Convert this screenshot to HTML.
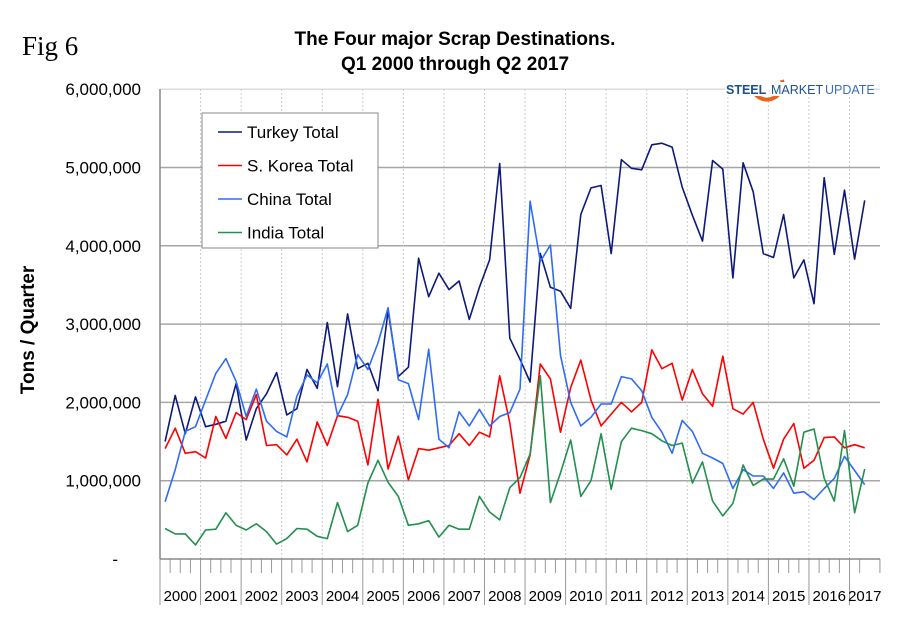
<!DOCTYPE html>
<html><head><meta charset="utf-8"><style>
body{margin:0;background:#fff;}
svg{display:block;font-family:"Liberation Sans",Arial,sans-serif;}
</style></head><body>
<svg id="chart" width="910" height="622" viewBox="0 0 910 622" xmlns="http://www.w3.org/2000/svg">
<rect width="910" height="622" fill="#fff"/>
<text x="22" y="55" font-family="Liberation Serif,serif" font-size="27">Fig 6</text>
<text x="455" y="45" text-anchor="middle" font-size="19" font-weight="bold">The Four major Scrap Destinations.</text>
<text x="455" y="70" text-anchor="middle" font-size="19" font-weight="bold">Q1 2000 through Q2 2017</text>
<text transform="translate(34,330) rotate(-90)" text-anchor="middle" font-size="19" font-weight="bold">Tons / Quarter</text>
<g id="grid"></g>
<g id="axes"></g>
<g id="series"></g>
<g>
<path d="M752 88 A14 14 0 1 0 782 80" fill="none" stroke="#e8641e" stroke-width="4"/>
<rect x="725" y="82" width="146" height="14" fill="#fff"/>
<text x="726" y="94" font-size="12.5" font-weight="bold" fill="#1d4f91">STEEL</text>
<text x="771" y="94" font-size="12.5" fill="#1d4f91">MARKET</text>
<text x="825" y="94" font-size="12.5" fill="#3a6fb5">UPDATE</text>
</g>
<g>
<rect x="202" y="113" width="176" height="135" fill="#fff" stroke="#888" stroke-width="1"/>
<g id="legend-items"></g>
</g>
</svg>
<script>
const years = ["2000","2001","2002","2003","2004","2005","2006","2007","2008","2009","2010","2011","2012","2013","2014","2015","2016","2017"];
const yTicks = [0,1000000,2000000,3000000,4000000,5000000,6000000];
const yTickLabels = ["-","1,000,000","2,000,000","3,000,000","4,000,000","5,000,000","6,000,000"];
const seriesNames = ["Turkey Total","S. Korea Total","China Total","India Total"];
const turkey = [1.50,2.09,1.60,2.07,1.69,1.72,1.76,2.24,1.52,1.92,2.11,2.38,1.84,1.92,2.42,2.18,3.02,2.20,3.13,2.43,2.50,2.15,3.17,2.33,2.45,3.84,3.35,3.65,3.44,3.55,3.06,3.47,3.82,5.05,2.82,2.55,2.26,3.90,3.47,3.42,3.20,4.40,4.74,4.77,3.90,5.10,4.99,4.97,5.29,5.31,5.26,4.75,4.39,4.06,5.09,4.98,3.59,5.06,4.69,3.90,3.85,4.40,3.59,3.82,3.26,4.87,3.89,4.71,3.83,4.58];
const korea = [1.41,1.67,1.35,1.37,1.29,1.82,1.54,1.87,1.78,2.10,1.45,1.46,1.33,1.53,1.24,1.75,1.45,1.83,1.81,1.76,1.20,2.04,1.15,1.57,1.01,1.41,1.39,1.42,1.45,1.60,1.45,1.62,1.56,2.34,1.74,0.84,1.33,2.49,2.30,1.62,2.19,2.54,2.03,1.70,1.85,2.00,1.88,2.00,2.67,2.43,2.50,2.03,2.42,2.11,1.95,2.59,1.92,1.85,2.00,1.53,1.16,1.53,1.73,1.16,1.26,1.55,1.56,1.42,1.46,1.42];
const china = [0.73,1.14,1.63,1.69,2.03,2.37,2.56,2.27,1.82,2.17,1.76,1.63,1.56,2.08,2.35,2.25,2.49,1.83,2.10,2.61,2.42,2.76,3.21,2.29,2.24,1.78,2.68,1.53,1.42,1.88,1.70,1.91,1.70,1.82,1.87,2.17,4.57,3.80,4.01,2.60,2.00,1.70,1.81,1.98,1.98,2.33,2.30,2.15,1.81,1.62,1.35,1.77,1.63,1.35,1.29,1.22,0.90,1.14,1.06,1.06,0.90,1.10,0.84,0.86,0.76,0.90,1.03,1.31,1.13,0.95];
const india = [0.39,0.32,0.32,0.18,0.37,0.38,0.59,0.43,0.37,0.45,0.35,0.19,0.26,0.39,0.38,0.29,0.26,0.72,0.35,0.43,0.97,1.26,0.98,0.80,0.43,0.45,0.49,0.28,0.43,0.38,0.38,0.80,0.60,0.50,0.91,1.04,1.34,2.34,0.72,1.10,1.52,0.80,1.00,1.60,0.89,1.50,1.67,1.64,1.60,1.51,1.45,1.48,0.97,1.24,0.74,0.55,0.71,1.20,0.94,1.02,1.02,1.28,0.93,1.62,1.66,1.03,0.74,1.64,0.59,1.15];
const seriesColors = ["#0d1a7a","#ff0000","#2f6cf5","#22904f"];
const seriesKeys = ["turkey-line","korea-line","china-line","india-line"];

const NS="http://www.w3.org/2000/svg";
const X0=160, QW=10.14, Y0=559, PPM=78.3, XEND=880;
function xq(i){return X0+QW*(i+0.5);}
function yv(v){return Y0-v/1e6*PPM;}
function mk(tag,attrs,parent){const e=document.createElementNS(NS,tag);for(const k in attrs)e.setAttribute(k,attrs[k]);parent.appendChild(e);return e;}
const grid=document.getElementById('grid'), axes=document.getElementById('axes'), ser=document.getElementById('series');

yTicks.forEach((t,i)=>{
  if(t>0){const l=mk('line',{x1:X0,x2:XEND,y1:yv(t),y2:yv(t),stroke:i===6?'#ddd':'#a6a6a6','stroke-width':1.5},grid);
  
  }
  const tx=mk('text',{x:i===0?118:141,y:yv(t)+6,'text-anchor':'end','font-size':17},axes);
  tx.textContent=yTickLabels[i];
  
  
});
let q=0;
years.forEach((yr,k)=>{
  const last = k===years.length-1;
  const n = last?2:4;
  const xs=X0+q*QW, xe=last?XEND:X0+(q+n)*QW;
  if(k>0){const g=mk('line',{x1:xs,x2:xs,y1:89,y2:Y0,stroke:'#ccc','stroke-dasharray':'2,2'},grid);
  
  }
  const sep=mk('line',{x1:xs,x2:xs,y1:Y0,y2:605,stroke:'#999','stroke-width':1},axes);
  
  
  for(let j=1;j<n;j++){const tk=mk('line',{x1:xs+j*QW,x2:xs+j*QW,y1:Y0,y2:573,stroke:'#999'},axes);
  
  }
  const lbl=mk('text',{x:(xs+xe)/2,y:601,'text-anchor':'middle','font-size':15},axes);
  lbl.textContent=yr;
  
  
  q+=n;
});
for(let j=q;j<Math.round((XEND-X0)/QW);j++){const x=X0+(j+1)*QW;if(x<=XEND+1){const tk=mk('line',{x1:x,x2:x,y1:Y0,y2:573,stroke:'#999'},axes);
  
  }}
const ya=mk('line',{x1:X0,x2:X0,y1:89,y2:Y0,stroke:'#888','stroke-width':1.5},axes);


const xa=mk('line',{x1:X0,x2:XEND,y1:Y0,y2:Y0,stroke:'#888','stroke-width':1.5},axes);



[turkey,korea,china,india].forEach((arr,s)=>{
  const pts=arr.map((v,i)=>xq(i).toFixed(1)+','+yv(v*1e6).toFixed(1)).join(' ');
  const p=mk('polyline',{points:pts,fill:'none',stroke:seriesColors[s],'stroke-width':1.6,'stroke-linejoin':'round'},ser);
  
  
});
const li=document.getElementById('legend-items');
seriesNames.forEach((nm,s)=>{
  const y=132+s*33.5;
  const g=mk('g',{},li);
  
  
  mk('line',{x1:218,x2:242,y1:y,y2:y,stroke:seriesColors[s],'stroke-width':1.6},g);
  const t=mk('text',{x:247,y:y+6,'font-size':17},g);
  t.textContent=nm;
});
</script>
</body></html>
